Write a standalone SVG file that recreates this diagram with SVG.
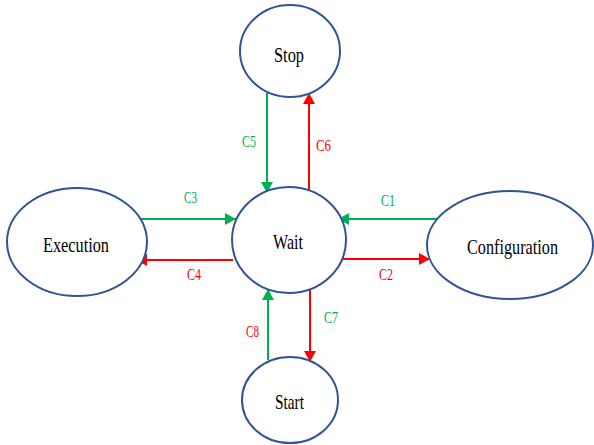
<svg xmlns="http://www.w3.org/2000/svg" width="594" height="445" viewBox="0 0 594 445">
  <style>
    .node ellipse { fill: #ffffff; stroke: #2F5597; stroke-width: 2; }
    .node text { font-family: "Liberation Serif", "Times New Roman", serif; font-size: 22px; fill: #000000; }
    .lbl { font-family: "Liberation Serif", "Times New Roman", serif; font-size: 16px; }
    .g { stroke: #00B050; stroke-width: 2; fill: none; }
    .r { stroke: #FF0000; stroke-width: 2; fill: none; }
    .gt { fill: #00B050; }
    .rt { fill: #FF0000; }
  </style>
  <defs>
    <marker id="ahG" markerUnits="userSpaceOnUse" markerWidth="12" markerHeight="12" refX="11" refY="6" orient="auto">
      <path d="M0,0 L11,6 L0,12 z" fill="#00B050"/>
    </marker>
    <marker id="ahR" markerUnits="userSpaceOnUse" markerWidth="12" markerHeight="12" refX="11" refY="6" orient="auto">
      <path d="M0,0 L11,6 L0,12 z" fill="#FF0000"/>
    </marker>
  </defs>

  <rect width="594" height="445" fill="#ffffff"/>

  <g id="connectors">
    <path class="g" d="M139,219 H236" marker-end="url(#ahG)"/>
    <path class="r" d="M233,260 H136" marker-end="url(#ahR)"/>
    <path class="g" d="M437,219 H338" marker-end="url(#ahG)"/>
    <path class="r" d="M343,259 H430" marker-end="url(#ahR)"/>
    <path class="g" d="M267,93 V193" marker-end="url(#ahG)"/>
    <path class="r" d="M309,192 V93" marker-end="url(#ahR)"/>
    <path class="g" d="M268,360 V289" marker-end="url(#ahG)"/>
    <path class="r" d="M310,287 V362" marker-end="url(#ahR)"/>

    <text class="lbl gt" x="184" y="203" textLength="13" lengthAdjust="spacingAndGlyphs">C3</text>
    <text class="lbl rt" x="187" y="280" textLength="14" lengthAdjust="spacingAndGlyphs">C4</text>
    <text class="lbl gt" x="381" y="206" textLength="14" lengthAdjust="spacingAndGlyphs">C1</text>
    <text class="lbl rt" x="379" y="280" textLength="14" lengthAdjust="spacingAndGlyphs">C2</text>
    <text class="lbl gt" x="242" y="147" textLength="14" lengthAdjust="spacingAndGlyphs">C5</text>
    <text class="lbl rt" x="316" y="151" textLength="15" lengthAdjust="spacingAndGlyphs">C6</text>
    <text class="lbl gt" x="324" y="323" textLength="14" lengthAdjust="spacingAndGlyphs">C7</text>
    <text class="lbl rt" x="246" y="337" textLength="13" lengthAdjust="spacingAndGlyphs">C8</text>
  </g>

  <g id="stop" class="node">
    <ellipse cx="290" cy="51" rx="50" ry="46"/>
    <text x="274" y="62" textLength="30" lengthAdjust="spacingAndGlyphs">Stop</text>
  </g>
  <g id="wait" class="node">
    <ellipse cx="289" cy="240" rx="57" ry="53"/>
    <text x="273" y="249" textLength="30" lengthAdjust="spacingAndGlyphs">Wait</text>
  </g>
  <g id="execution" class="node">
    <ellipse cx="77" cy="242" rx="70" ry="54"/>
    <text x="43" y="252" textLength="66" lengthAdjust="spacingAndGlyphs">Execution</text>
  </g>
  <g id="configuration" class="node">
    <ellipse cx="510" cy="245" rx="83" ry="54"/>
    <text x="467" y="254" textLength="91" lengthAdjust="spacingAndGlyphs">Configuration</text>
  </g>
  <g id="start" class="node">
    <ellipse cx="290" cy="400" rx="48" ry="43"/>
    <text x="275" y="409" textLength="29" lengthAdjust="spacingAndGlyphs">Start</text>
  </g>
</svg>
